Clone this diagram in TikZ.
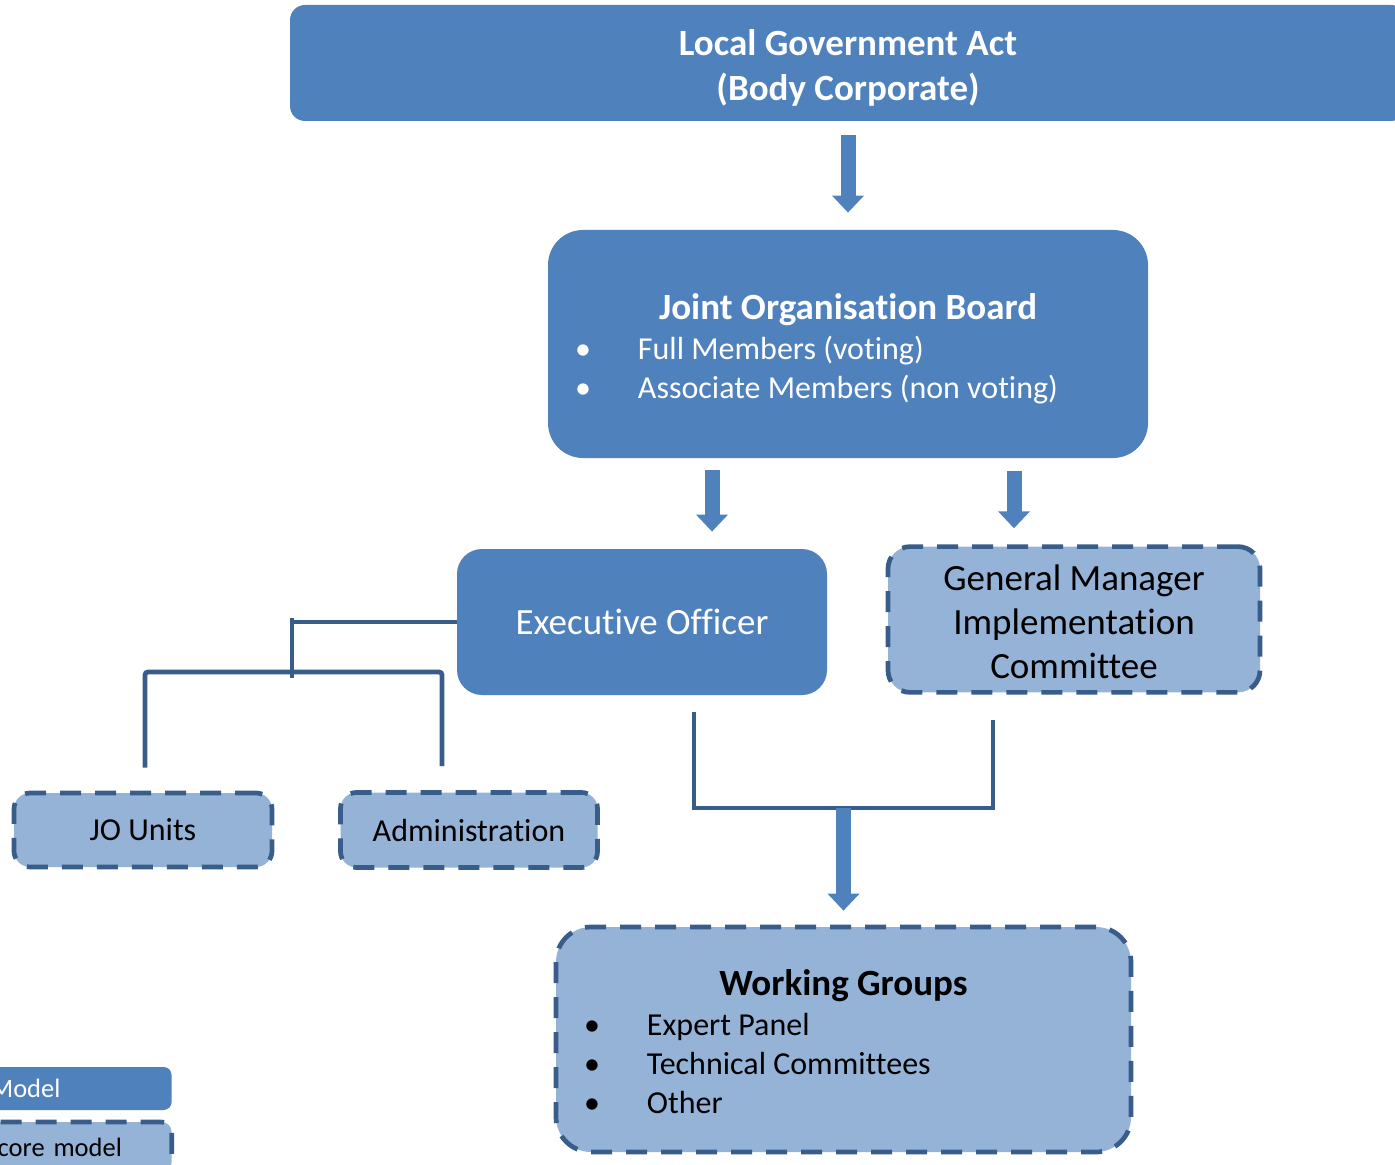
\documentclass[tikz,border=0pt]{standalone}
\usepackage{fontspec}
\setmainfont[Ligatures=NoCommon]{Carlito}
\usetikzlibrary{arrows.meta,positioning,calc}
\definecolor{boardblue}{HTML}{4F81BD}
\definecolor{paleblue}{HTML}{95B3D7}
\definecolor{edgeblue}{HTML}{385D8A}
\newcommand{\bulletline}[2]{\makebox[#1][l]{\makebox[31.5pt][l]{\textbullet}#2}}
\newcommand{\upstrut}{\rule{0pt}{1em}}
\newcommand{\downstrut}{\rule[-0.2em]{0pt}{0.2em}}
\tikzset{
block/.style = {fill=boardblue, text=white, rectangle, align=center},
subblock/.style = {fill=paleblue, draw=edgeblue, line width=2.35pt, dash pattern=on 10.5pt off 7pt, text=black, rectangle, align=center},
link/.style = {draw=edgeblue, line width=2.4pt},
flow/.style = {draw=boardblue, color=boardblue, line width=7.5pt, -{Triangle[width=15.5pt,length=8.5pt]}},
bigfont/.style = {font=\fontsize{18.5}{22}\selectfont},
listfont/.style = {font=\fontsize{16}{19.5}\selectfont}
}
\begin{document}
\begin{tikzpicture}[x=0.5pt, y=-0.5pt, node distance=140.5pt]
  \useasboundingbox (0,0) rectangle (1395,1165);
  \clip (0,0) rectangle (1395,1165);
  \node [block, font=\fontsize{18.5}{22.5}\selectfont\bfseries, minimum width=558pt, minimum height=58pt, rounded corners=7.5pt] (act) at (848,63) {\upstrut Local Government Act\\(Body Corporate)\downstrut};
  \node [block, listfont, below of=act, minimum width=300pt, minimum height=114pt, rounded corners=17.5pt] (board)
    {{\fontsize{18.5}{22}\selectfont\bfseries\upstrut Joint Organisation Board}\\[0.5pt]
     \bulletline{273pt}{Full Members (voting)}\\
     \bulletline{273pt}{Associate Members (non voting)}\downstrut};
  \node [block, bigfont, minimum width=185pt, minimum height=73pt, rounded corners=12.5pt] (eo) at (642,622) {Executive Officer};
  \node [subblock, bigfont, minimum width=186pt, minimum height=70.5pt, rounded corners=11pt] (gm) at (1074,619.5) {\upstrut General Manager\\Implementation\\Committee\downstrut};
  \node [subblock, listfont, minimum width=129pt, minimum height=37pt, rounded corners=8pt] (jo) at (143,830) {JO Units};
  \node [subblock, listfont, right of=jo, node distance=163pt, minimum width=128.5pt, minimum height=37.5pt, rounded corners=8pt] (admin) {Administration};
  \node [subblock, listfont, minimum width=287.5pt, minimum height=112.5pt, rounded corners=17.5pt] (wg) at (843.5,1039.5)
    {{\fontsize{18.5}{22}\selectfont\bfseries\upstrut Working Groups}\\[0.5pt]
     \bulletline{259.5pt}{Expert Panel}\\
     \bulletline{259.5pt}{Technical Committees}\\
     \bulletline{259.5pt}{Other}\downstrut};
  % key in the lower left corner
  \node [block, anchor=east, font=\fontsize{13.25}{16}\selectfont, align=left, text width=75pt, inner xsep=15.5pt, minimum height=21.5pt, rounded corners=4pt] (keycore) at (172,1088.5) {Model};
  \node [subblock, anchor=east, font=\fontsize{13.25}{16}\selectfont, align=left, text width=71.5pt, inner xsep=15.5pt, minimum height=25pt, rounded corners=5pt] (keyother) at (174,1147) {core model};
  % block arrows
  \draw [flow] ($(act.south)+(0,14)$) -- ($(board.north)+(0,-17)$);
  \draw [flow] ($(board.south)+(-136,12)$) -- ($(eo.north)+(70,-17)$);
  \draw [flow] ($(board.south)+(166,13)$) -- ($(gm.north)+(-60,-16)$);
  % officer to units and administration
  \coordinate (split) at (292,672);
  \draw [link] (eo.west) -- (eo.west -| split);
  \draw [link] ($(split)+(0,-54)$) -- ($(split)+(0,6)$);
  \draw [link, rounded corners=1.5pt] ($(jo.north)+(2,-23)$) |- (split) -| ($(admin.north)+(-27,-24)$);
  % officer and committee to working groups
  \coordinate (join) at (843.5,808);
  \draw [link] ($(eo.south)+(52,17)$) |- (join) -| ($(gm.south)+(-81,25)$);
  \draw [flow] (join) -- ($(wg.north)+(0,-14)$);
\end{tikzpicture}
\end{document}
